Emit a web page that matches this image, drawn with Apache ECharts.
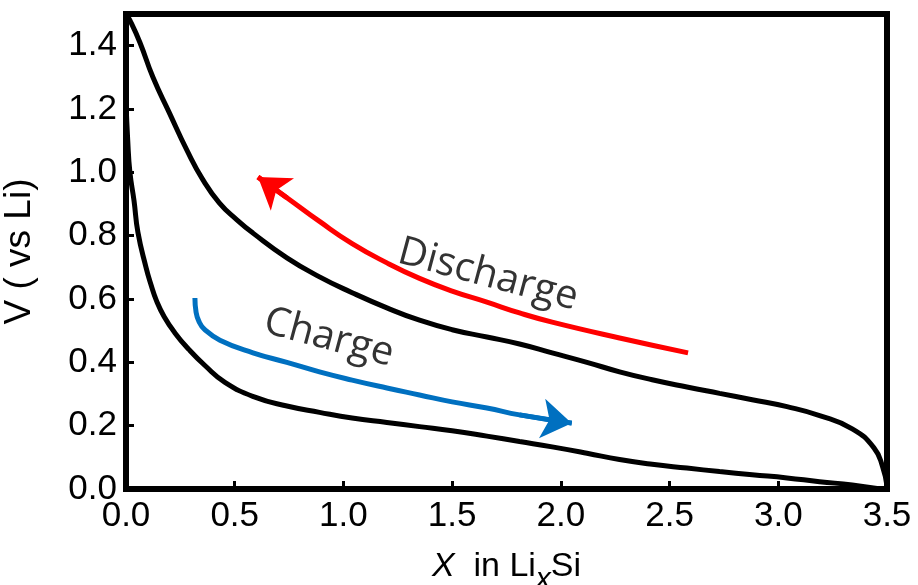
<!DOCTYPE html>
<html>
<head>
<meta charset="utf-8">
<title>V vs x in LixSi</title>
<script src="https://cdn.jsdelivr.net/npm/echarts@6/dist/echarts.min.js"></script>
<style>
  html, body { margin: 0; padding: 0; background: #fff; }
  #chart { width: 918px; height: 585px; }
</style>
</head>
<body>
<div id="chart"></div>
<script>
// upper curve (discharge branch)
const dischargeX = [0, 0.018, 0.064, 0.124, 0.2, 0.28, 0.354, 0.43, 0.51, 0.584, 0.74, 0.89, 1.04, 1.2, 1.35, 1.5, 1.66, 1.81, 1.96, 2.12, 2.27, 2.42, 2.58, 2.73, 2.88, 3.04, 3.19, 3.34, 3.44, 3.48, 3.5];
const dischargeV = [1.5, 1.48, 1.41, 1.3, 1.187, 1.07, 0.976, 0.903, 0.85, 0.808, 0.73, 0.67, 0.62, 0.572, 0.533, 0.503, 0.48, 0.458, 0.43, 0.4, 0.37, 0.345, 0.322, 0.302, 0.282, 0.26, 0.232, 0.19, 0.13, 0.07, 0.01];

// lower curve (charge branch)
const chargeX = [0, 0.008, 0.018, 0.037, 0.055, 0.092, 0.115, 0.14, 0.175, 0.225, 0.29, 0.363, 0.455, 0.593, 0.74, 0.89, 1.04, 1.2, 1.35, 1.5, 1.66, 1.81, 1.96, 2.12, 2.27, 2.42, 2.58, 2.73, 2.88, 3.04, 3.19, 3.34, 3.47];
const chargeV = [1.22, 1.1, 1.0, 0.91, 0.81, 0.7, 0.645, 0.595, 0.545, 0.493, 0.44, 0.39, 0.337, 0.29, 0.262, 0.242, 0.224, 0.21, 0.197, 0.184, 0.167, 0.15, 0.133, 0.113, 0.093, 0.078, 0.066, 0.055, 0.045, 0.035, 0.023, 0.013, 0.0];

// annotation arrows (data coordinates, last point is the tip)
const redArrowX = [2.585, 2.27, 1.96, 1.81, 1.66, 1.5, 1.35, 1.2, 1.04, 0.89, 0.74, 0.607];
const redArrowV = [0.43, 0.477, 0.527, 0.556, 0.59, 0.625, 0.665, 0.714, 0.775, 0.845, 0.92, 0.985];
const blueArrowX = [0.317, 0.322, 0.335, 0.36, 0.432, 0.584, 0.74, 0.89, 1.04, 1.2, 1.35, 1.5, 1.66, 1.81, 2.05];
const blueArrowV = [0.603, 0.56, 0.53, 0.505, 0.47, 0.43, 0.4, 0.37, 0.344, 0.319, 0.297, 0.275, 0.256, 0.234, 0.208];

const xTicks = [0, 0.5, 1, 1.5, 2, 2.5, 3, 3.5];
const yTicks = [0, 0.2, 0.4, 0.6, 0.8, 1.0, 1.2, 1.4];

const zip = (xs, ys) => xs.map((x, i) => [x, ys[i]]);
const lastTwo = (xs, ys) => zip(xs, ys).slice(-2);

const chart = echarts.init(document.getElementById("chart"));

const axisFont = "'Liberation Sans', Arial, sans-serif";

const option = {
  backgroundColor: "#fff",
  animation: false,
  grid: {
    left: 126,
    right: 31,
    top: 14,
    bottom: 96,
    containLabel: false,
    outerBoundsMode: "none",
    show: true,
    borderColor: "#000",
    borderWidth: 6,
  },
  xAxis: {
    type: "value",
    min: xTicks[0],
    max: xTicks[xTicks.length - 1],
    interval: 0.5,
    name: "{i|X}  in Li{sub|x}Si",
    nameLocation: "middle",
    nameGap: 48,
    nameTextStyle: {
      fontFamily: axisFont,
      fontSize: 34,
      color: "#000",
      lineHeight: 56,
      rich: {
        i: { fontFamily: axisFont, fontSize: 34, fontStyle: "italic", lineHeight: 56 },
        sub: { fontFamily: axisFont, fontSize: 30, fontStyle: "italic", lineHeight: 30, verticalAlign: "bottom" },
      },
    },
    splitLine: { show: false },
    axisLine: { show: true, lineStyle: { color: "#000", width: 6 } },
    axisTick: { show: true, inside: true, length: 8, lineStyle: { color: "#000", width: 3 } },
    axisLabel: {
      margin: 10,
      fontFamily: axisFont,
      fontSize: 35,
      color: "#000",
      formatter: (v) => v.toFixed(1),
    },
  },
  yAxis: {
    type: "value",
    min: 0,
    max: 1.5,
    interval: 0.2,
    name: "V ( vs Li)",
    nameLocation: "middle",
    nameGap: 88,
    nameTextStyle: { fontFamily: axisFont, fontSize: 37, color: "#000" },
    splitLine: { show: false },
    axisLine: { show: true, lineStyle: { color: "#000", width: 6 } },
    axisTick: { show: true, inside: true, length: 8, lineStyle: { color: "#000", width: 3 } },
    axisLabel: {
      margin: 9,
      showMaxLabel: false,
      fontFamily: axisFont,
      fontSize: 35,
      color: "#000",
      formatter: (v) => (yTicks.indexOf(Math.round(v * 10) / 10) >= 0 ? v.toFixed(1) : ""),
    },
  },
  series: [
    {
      name: "discharge",
      type: "line",
      data: zip(dischargeX, dischargeV),
      smooth: 0.5,
      showSymbol: false,
      lineStyle: { color: "#000", width: 5 },
      z: 3,
    },
    {
      name: "charge",
      type: "line",
      data: zip(chargeX, chargeV),
      smooth: 0.5,
      showSymbol: false,
      lineStyle: { color: "#000", width: 5 },
      z: 3,
    },
    {
      name: "redArrow",
      type: "line",
      data: zip(redArrowX, redArrowV),
      smooth: 0.5,
      showSymbol: false,
      lineStyle: { color: "#ff0000", width: 5 },
      z: 4,
    },
    {
      name: "blueArrow",
      type: "line",
      data: zip(blueArrowX, blueArrowV),
      smooth: 0.5,
      showSymbol: false,
      lineStyle: { color: "#0070c0", width: 5 },
      z: 4,
    },
    {
      // arrow heads
      type: "lines",
      coordinateSystem: "cartesian2d",
      symbol: ["none", "arrow"],
      symbolSize: 30,
      z: 5,
      data: [
        { coords: lastTwo(redArrowX, redArrowV), lineStyle: { color: "#ff0000", width: 5, opacity: 1 } },
        { coords: lastTwo(blueArrowX, blueArrowV), lineStyle: { color: "#0070c0", width: 5, opacity: 1 } },
      ],
    },
  ],
  graphic: [
    {
      type: "text",
      x: 488,
      y: 275,
      rotation: (-15 * Math.PI) / 180,
      style: {
        text: "Discharge",
        fontFamily: "'Open Sans', sans-serif",
        fontSize: 40,
        fill: "#333",
        align: "center",
        verticalAlign: "middle",
      },
      z: 10,
    },
    {
      type: "text",
      x: 329,
      y: 338,
      rotation: (-15 * Math.PI) / 180,
      style: {
        text: "Charge",
        fontFamily: "'Open Sans', sans-serif",
        fontSize: 40,
        fill: "#333",
        align: "center",
        verticalAlign: "middle",
      },
      z: 10,
    },
  ],
};

chart.setOption(option);
</script>
</body>
</html>
